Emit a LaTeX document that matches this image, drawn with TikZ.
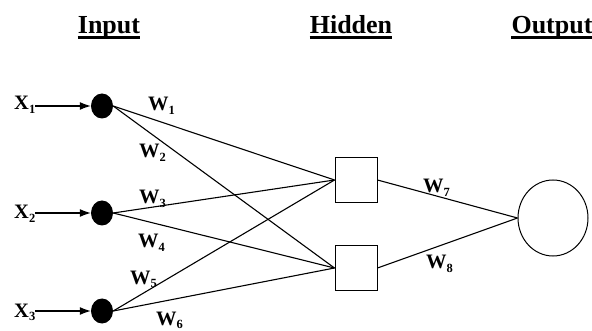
\documentclass[tikz,border=0pt]{standalone}
\usepackage{fontspec}
\setmainfont{Liberation Serif}
\usetikzlibrary{arrows.meta,shapes.geometric}

% bold symbol with a lowered small index
\newcommand{\symsub}[2]{\textbf{#1\raisebox{-3.5pt}{\fontsize{12.5}{12.5}\selectfont #2}}}

\tikzset{
  title/.style={inner sep=0pt, anchor=base, font=\fontsize{26}{30}\selectfont\bfseries},
  rulebar/.style={line width=2.2pt},
  lbl/.style={inner sep=0pt, anchor=base west, font=\fontsize{20.5}{24}\selectfont},
  innode/.style={ellipse, fill=black, minimum width=22pt, minimum height=25pt, inner sep=0pt},
  hidnode/.style={rectangle, draw, line width=1pt, minimum width=42pt, minimum height=45pt, inner sep=0pt},
  outnode/.style={ellipse, draw, line width=1pt, minimum width=70pt, minimum height=76pt, inner sep=0pt},
  wire/.style={line width=1.1pt},
  feed/.style={line width=1.1pt, -{Latex[length=11pt,width=8pt]}}
}

\begin{document}
\begin{tikzpicture}[x=1pt,y=-1pt]
\useasboundingbox (0,0) rectangle (592,331);

% layer titles with underlines
\node[title] (tin)  at (109,34) {Input};
\node[title] (thid) at (351,34) {Hidden};
\node[title] (tout) at (552,34) {Output};
\foreach \t in {tin,thid,tout}
  \draw[rulebar] ([yshift=-3.5pt]\t.base west) -- ([yshift=-3.5pt]\t.base east);

% input neurons
\node[innode] (i1) at (102,106) {};
\node[innode] (i2) at (102,213) {};
\node[innode] (i3) at (102,311) {};

% hidden neurons
\node[hidnode] (h1) at (356,180) {};
\node[hidnode] (h2) at (356,268) {};

% output neuron
\node[outnode] (o) at (553,218) {};

% input signals
\node[lbl] (x1) at (14,110) {\symsub{X}{1}};
\node[lbl] (x2) at (14,219) {\symsub{X}{2}};
\node[lbl] (x3) at (14,317) {\symsub{X}{3}};
\draw[feed] (x1.east |- i1) -- (i1.west);
\draw[feed] (x2.east |- i2) -- (i2.west);
\draw[feed] (x3.east |- i3) -- (i3.west);

% input-to-hidden connections
\draw[wire] (i1.east) -- (h1.west);
\draw[wire] (i1.east) -- (h2.west);
\draw[wire] (i2.east) -- (h1.west);
\draw[wire] (i2.east) -- (h2.west);
\draw[wire] (i3.east) -- (h1.west);
\draw[wire] (i3.east) -- (h2.west);

% hidden-to-output connections
\draw[wire] (h1.east) -- (o.west);
\draw[wire] (h2.east) -- (o.west);

% weights
\node[lbl] (w1) at (148,111) {\symsub{W}{1}};
\node[lbl] (w2) at (139,158) {\symsub{W}{2}};
\node[lbl] (w3) at (139,204) {\symsub{W}{3}};
\node[lbl] (w4) at (138,248) {\symsub{W}{4}};
\node[lbl] (w5) at (130,284) {\symsub{W}{5}};
\node[lbl] (w6) at (156,325) {\symsub{W}{6}};
\node[lbl] (w7) at (423,193) {\symsub{W}{7}};
\node[lbl] (w8) at (426,269) {\symsub{W}{8}};
\end{tikzpicture}
\end{document}
